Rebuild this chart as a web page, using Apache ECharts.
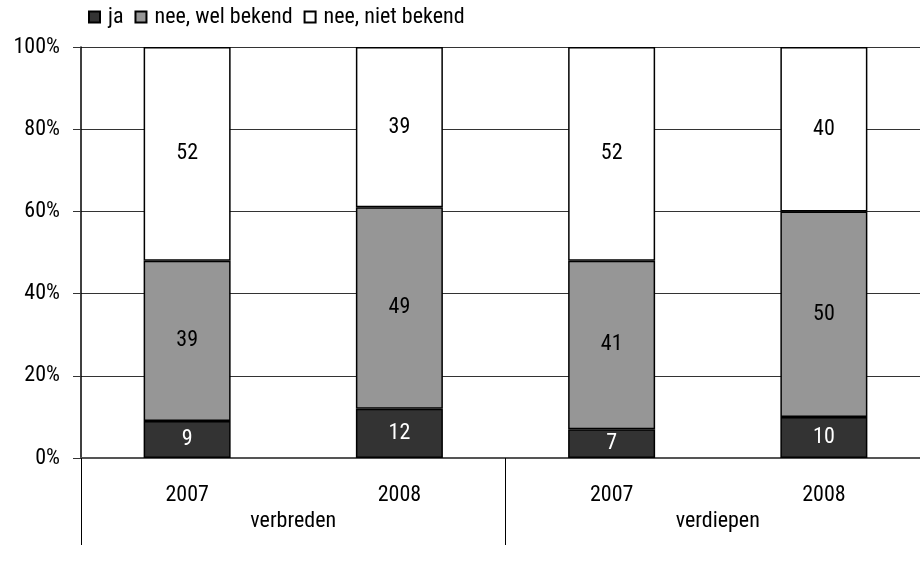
<!DOCTYPE html>
<html>
<head>
<meta charset="utf-8">
<script src="https://cdn.jsdelivr.net/npm/echarts@6/dist/echarts.min.js"></script>
<style>
    html, body { margin: 0; padding: 0; background: #fff; }
    #chart { width: 920px; height: 561px; }
</style>
</head>
<body>
<div id="chart"></div>
<script>
const years = ['2007', '2008', '2007', '2008'];
const groups = ['verbreden', 'verdiepen'];
const ja = [9, 12, 7, 10];
const welBekend = [39, 49, 41, 50];
const nietBekend = [52, 39, 52, 40];

const font = '"Roboto Condensed", "DejaVu Sans Condensed", sans-serif';

const barSeries = (name, data, color, labelColor) => ({
    name: name,
    type: 'bar',
    stack: 'total',
    barWidth: 87,
    data: data,
    itemStyle: { color: color, borderColor: '#000', borderWidth: 1.5 },
    label: {
        show: true,
        position: 'inside',
        color: labelColor,
        fontFamily: font,
        fontSize: 22
    }
});

const chart = echarts.init(document.getElementById('chart'));
chart.setOption({
    animation: false,
    backgroundColor: '#fff',
    textStyle: { fontFamily: font, color: '#000' },
    legend: {
        left: 88,
        top: 6,
        padding: 0,
        itemGap: 11,
        itemWidth: 11,
        itemHeight: 11,
        icon: 'rect',
        textStyle: { fontFamily: font, fontSize: 22, color: '#000', padding: [0, 0, 0, 3] },
        data: ['ja', 'nee, wel bekend', 'nee, niet bekend']
    },
    grid: { left: 81, top: 47, width: 849, height: 411, outerBoundsMode: 'none' },
    xAxis: [
        {
            type: 'category',
            data: years,
            axisLine: { lineStyle: { color: '#555', width: 2 } },
            axisTick: { show: false },
            axisLabel: { margin: 26, fontSize: 22, color: '#000', fontFamily: font }
        },
        {
            type: 'category',
            position: 'bottom',
            data: groups,
            axisLine: { show: false },
            axisTick: { show: true, length: 87, lineStyle: { color: '#000', width: 1 } },
            axisLabel: { margin: 52, fontSize: 22, color: '#000', fontFamily: font }
        }
    ],
    yAxis: {
        type: 'value',
        min: 0,
        max: 100,
        interval: 20,
        axisLine: { show: true, lineStyle: { color: '#000', width: 1.5 } },
        axisTick: { show: true, length: 8, lineStyle: { color: '#333' } },
        axisLabel: { formatter: '{value}%', margin: 21, fontSize: 22, color: '#000', fontFamily: font },
        splitLine: { lineStyle: { color: '#333', width: 1 } }
    },
    series: [
        barSeries('ja', ja, '#333333', '#fff'),
        barSeries('nee, wel bekend', welBekend, '#969696', '#000'),
        barSeries('nee, niet bekend', nietBekend, '#ffffff', '#000')
    ]
});
</script>
</body>
</html>
